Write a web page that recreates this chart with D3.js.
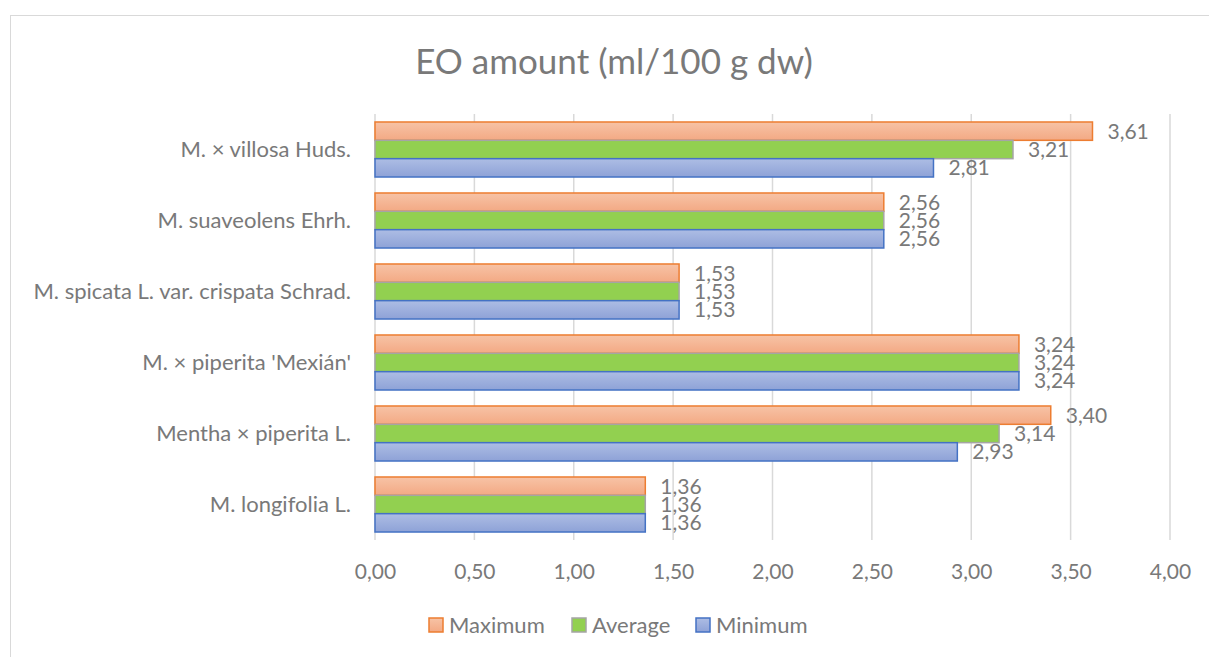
<!DOCTYPE html>
<html>
<head>
<meta charset="utf-8">
<script src="https://cdn.jsdelivr.net/npm/d3@7.9.0/dist/d3.min.js"></script>
<style>
  html, body { margin: 0; padding: 0; background: #fff; }
  svg { display: block; font-family: Lato, "Open Sans", sans-serif; }
</style>
</head>
<body>
<svg id="chart" width="1209" height="657"></svg>
<script>
const categories = [
  "M. × villosa Huds.",
  "M. suaveolens Ehrh.",
  "M. spicata L. var. crispata Schrad.",
  "M. × piperita 'Mexián'",
  "Mentha × piperita L.",
  "M. longifolia L."
];
const seriesNames = ["Maximum", "Average", "Minimum"];
const maximum = [3.61, 2.56, 1.53, 3.24, 3.40, 1.36];
const average = [3.21, 2.56, 1.53, 3.24, 3.14, 1.36];
const minimum = [2.81, 2.56, 1.53, 3.24, 2.93, 1.36];
const xTicks = [0, 0.5, 1, 1.5, 2, 2.5, 3, 3.5, 4];

const seriesValues = [maximum, average, minimum];
const fills = ["url(#gOrange)", "#92d050", "url(#gBlue)"];
const strokes = ["#ed7d31", "#a5a5a5", "#4472c4"];
const textColor = "#797979";
const fmt = v => d3.format(".2f")(v).replace(".", ",");

const svg = d3.select("#chart");

// gradients
const defs = svg.append("defs");
function grad(id, c1, c2) {
  const g = defs.append("linearGradient").attr("id", id)
    .attr("x1", 0).attr("y1", 0).attr("x2", 0).attr("y2", 1);
  g.append("stop").attr("offset", "0%").attr("stop-color", c1);
  g.append("stop").attr("offset", "100%").attr("stop-color", c2);
}
grad("gOrange", "#f7c3a6", "#f3a984");
grad("gBlue", "#adbde4", "#8ea2d7");

// chart border
svg.append("rect")
  .attr("x", 10.5).attr("y", 15.5)
  .attr("width", 1220).attr("height", 670)
  .attr("fill", "none").attr("stroke", "#d9d9d9").attr("stroke-width", 1);

const x = d3.scaleLinear().domain([0, 4]).range([375, 1170]);
const y = d3.scaleBand().domain(categories).range([114, 540])
  .paddingInner(0.225).paddingOuter(0.1125);
const ySub = d3.scaleBand().domain(seriesNames).range([0, y.bandwidth()]);

// title
svg.append("text")
  .attr("x", 614).attr("y", 74)
  .attr("text-anchor", "middle")
  .attr("font-size", 35)
  .attr("fill", textColor)
  .text("EO amount (ml/100 g dw)");

// gridlines
svg.append("g").selectAll("line")
  .data(xTicks)
  .join("line")
  .attr("x1", d => x(d)).attr("x2", d => x(d))
  .attr("y1", 114).attr("y2", 540)
  .attr("stroke", "#d9d9d9").attr("stroke-width", 1.5);

// x axis labels
const xAxis = d3.axisBottom(x).tickValues(xTicks).tickFormat(fmt).tickSize(0).tickPadding(0);
const gx = svg.append("g").attr("transform", "translate(0,579)").call(xAxis);
gx.select(".domain").remove();
gx.selectAll("text")
  .attr("dy", 0)
  .attr("font-family", "Lato, 'Open Sans', sans-serif")
  .attr("font-size", 21)
  .attr("fill", textColor);

// y axis labels
const yAxis = d3.axisLeft(y).tickSize(0).tickPadding(24);
const gy = svg.append("g").attr("transform", "translate(375,0)").call(yAxis);
gy.select(".domain").remove();
gy.selectAll("text")
  .attr("font-family", "Lato, 'Open Sans', sans-serif")
  .attr("font-size", 22)
  .attr("fill", textColor);

// bars
seriesNames.forEach((name, si) => {
  const vals = seriesValues[si];
  const g = svg.append("g");
  g.selectAll("rect")
    .data(categories)
    .join("rect")
    .attr("x", x(0))
    .attr("y", (c) => y(c) + ySub(name))
    .attr("width", (c, i) => x(vals[i]) - x(0))
    .attr("height", ySub.bandwidth())
    .attr("fill", fills[si])
    .attr("stroke", strokes[si])
    .attr("stroke-width", 1.5);
  g.selectAll("text")
    .data(categories)
    .join("text")
    .attr("x", (c, i) => x(vals[i]) + 15)
    .attr("y", (c) => y(c) + ySub(name) + ySub.bandwidth() / 2)
    .attr("dy", "0.35em")
    .attr("font-size", 21)
    .attr("fill", textColor)
    .text((c, i) => fmt(vals[i]));
});

// legend
const legendX = [429, 572, 696];
const lg = svg.append("g");
seriesNames.forEach((name, si) => {
  lg.append("rect")
    .attr("x", legendX[si]).attr("y", 618)
    .attr("width", 14).attr("height", 14)
    .attr("fill", fills[si])
    .attr("stroke", strokes[si])
    .attr("stroke-width", 1.5);
  lg.append("text")
    .attr("x", legendX[si] + 20).attr("y", 625)
    .attr("dy", "0.35em")
    .attr("font-size", 22)
    .attr("fill", textColor)
    .text(name);
});
</script>
</body>
</html>
